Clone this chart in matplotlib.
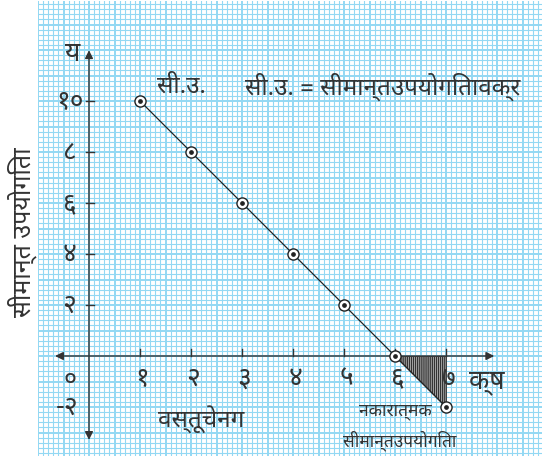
import matplotlib
matplotlib.use('Agg')
import matplotlib.pyplot as plt
from matplotlib import font_manager as fm
import numpy as np

# ---- data ----
units = [1, 2, 3, 4, 5, 6, 7]
marginal_utility = [10, 8, 6, 4, 2, 0, -2]
x_tick_labels = ['१', '२', '३', '४', '५', '६', '७']
y_ticks = [2, 4, 6, 8, 10]
y_tick_labels = ['२', '४', '६', '८', '१०']
neg_tick_label = '-२'
origin_label = '०'

# ---- font ----
names = {f.name for f in fm.fontManager.ttflist}
font = 'DejaVu Sans'
for cand in ['Noto Sans Devanagari', 'Mukta', 'Hind', 'Poppins', 'Anek Devanagari',
             'Annapurna SIL', 'Arya', 'Biryani', 'Asar']:
    if cand in names:
        font = cand
        break
plt.rcParams['font.family'] = [font, 'DejaVu Sans']
tc = '#333333'

W, H = 542, 460
fig = plt.figure(figsize=(W / 100, H / 100), dpi=100)
x0p, x1p, y0p, y1p = 38, 542, 2, 457
ax = fig.add_axes([x0p / W, 1 - y1p / H, (x1p - x0p) / W, (y1p - y0p) / H])
ppx = 51.0
ppy = 25.5
ox, oy = 89, 357
ax.set_xlim((x0p - ox) / ppx, (x1p - ox) / ppx)
ax.set_ylim((oy - y1p) / ppy, (oy - y0p) / ppy)
for s in ax.spines.values():
    s.set_visible(False)
ax.set_xticks([]); ax.set_yticks([])

# graph paper grid
gcol = '#93d8f3'
xl = ax.get_xlim(); yl = ax.get_ylim()
for i in range(int(np.floor(xl[0] * 10)), int(np.ceil(xl[1] * 10)) + 1):
    ax.axvline(i / 10, color=gcol, lw=1.4 if i % 5 == 0 else 0.8, zorder=0)
for i in range(int(np.floor(yl[0] * 5)), int(np.ceil(yl[1] * 5)) + 1):
    ax.axhline(i / 5, color=gcol, lw=1.4 if i % 5 == 0 else 0.8, zorder=0)

# axes arrows
ac = '#333333'
ax.annotate('', xy=(8.0, 0), xytext=(-0.72, 0),
            arrowprops=dict(arrowstyle='<|-|>', color=ac, lw=1.0, mutation_scale=12))
ax.annotate('', xy=(0, 12.1), xytext=(0, -3.4),
            arrowprops=dict(arrowstyle='<|-|>', color=ac, lw=1.0, mutation_scale=12))

# ticks
for xv in units:
    ax.plot([xv, xv], [0, 0.28], color=ac, lw=1.0, zorder=3)
for yv in y_ticks:
    ax.plot([-0.05, 0.09], [yv, yv], color=ac, lw=1.0, zorder=3)

# hatched triangle of negative utility
plt.rcParams['hatch.linewidth'] = 1.0
ax.fill([6, 7, 7], [0, 0, -2], facecolor='#cfcfcf', edgecolor='#333333',
        hatch='||||||||', lw=0.6, zorder=2)

# line and points
ax.plot(units, marginal_utility, color='#222222', lw=0.9, zorder=4)
ax.plot(units, marginal_utility, 'o', ms=8, mfc='white', mec='#222222', mew=1.0, zorder=5)
ax.plot(units, marginal_utility, 'o', ms=2.4, color='#222222', zorder=6)

# tick labels
for xv, lab in zip(units, x_tick_labels):
    ax.text(xv + 0.05, -0.85, lab, ha='center', va='center', fontsize=19, color=tc)
for yv, lab in zip(y_ticks, y_tick_labels):
    ax.text(-0.38, yv, lab, ha='center', va='center', fontsize=19, color=tc)
ax.text(-0.42, -2.0, neg_tick_label, ha='center', va='center', fontsize=19, color=tc)
ax.text(-0.37, -0.9, origin_label, ha='center', va='center', fontsize=18, color=tc)

# axis letters
ax.text(-0.33, 11.9, 'य', ha='center', va='center', fontsize=19, color=tc)
ax.text(7.8, -0.95, 'क्ष', ha='center', va='center', fontsize=19, color=tc)

# annotations
ax.text(1.33, 10.6, 'सी.उ.', ha='left', va='center', fontsize=17.5, color=tc)
ax.text(3.05, 10.6, 'सी.उ. = सीमान्तउपयोगितावक्र', ha='left', va='center', fontsize=17.5, color=tc)
ax.text(2.2, -2.45, 'वस्तूचेनग', ha='center', va='center', fontsize=17.5, color=tc)
ax.text(6.0, -2.1, 'नकारात्मक', ha='center', va='center', fontsize=12.5, color=tc)
ax.text(6.1, -3.28, 'सीमान्तउपयोगिता', ha='center', va='center', fontsize=12.5, color=tc)

# y axis title
fig.text(22 / W, 1 - 232 / H, 'सीमान्त उपयोगिता', rotation=90, ha='center', va='center',
         fontsize=18, color=tc)

fig.savefig('out.png', dpi=100)
